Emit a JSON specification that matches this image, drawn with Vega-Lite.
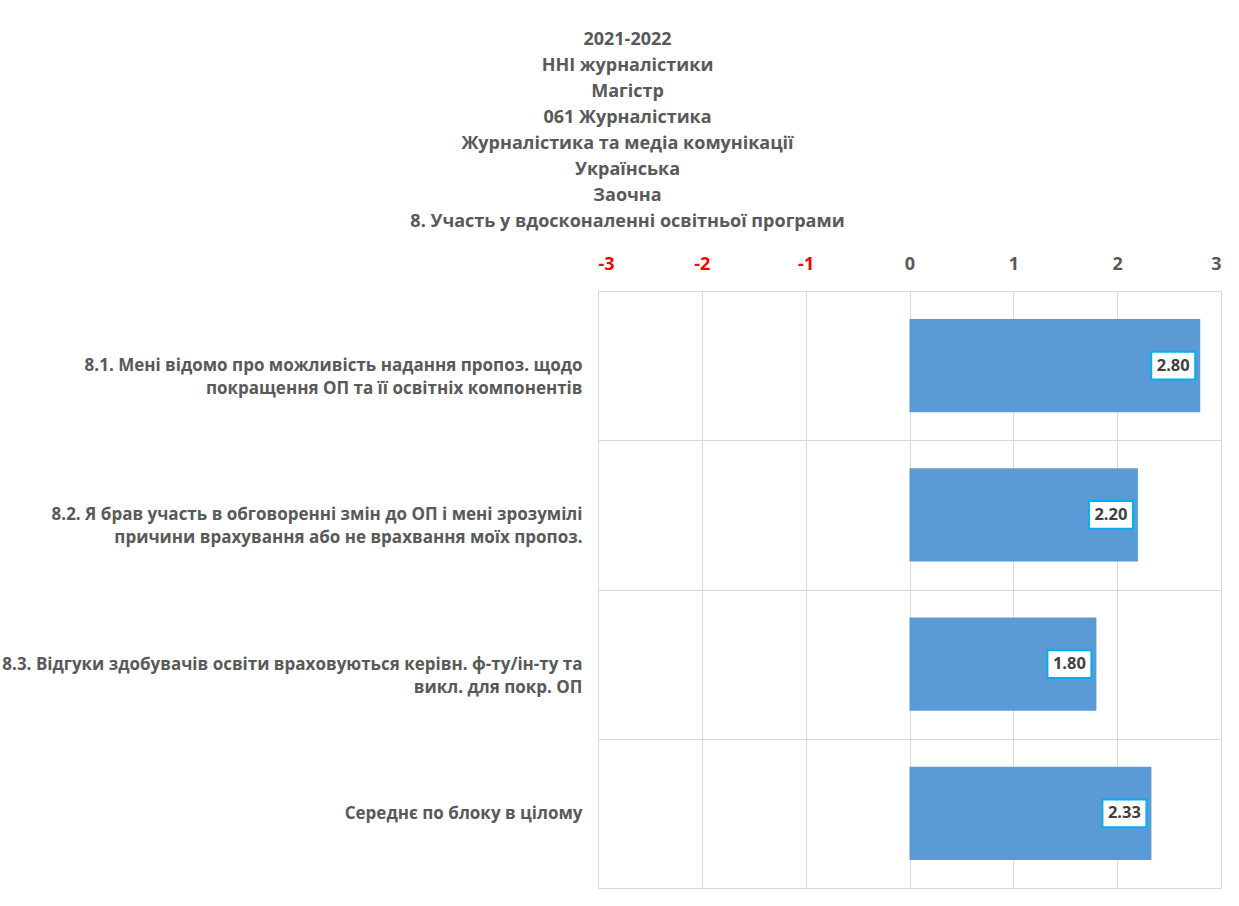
{
  "$schema": "https://vega.github.io/schema/vega-lite/v6.json",
  "width": 623,
  "height": 597,
  "autosize": {"type": "none"},
  "padding": {"left": 598, "top": 291, "right": 18, "bottom": 18},
  "background": "white",
  "config": {
    "font": "Open Sans",
    "view": {"stroke": "#d9d9d9", "strokeWidth": 1}
  },
  "title": {
    "text": ["2021-2022", "ННІ журналістики", "Магістр", "061 Журналістика", "Журналістика та медіа комунікації", "Українська", "Заочна", "8. Участь у вдосконаленні освітньої програми"],
    "fontSize": 18,
    "fontWeight": "bold",
    "color": "#595959",
    "lineHeight": 26,
    "anchor": "middle",
    "frame": "group",
    "dx": -282,
    "offset": 24
  },
  "data": {
    "values": [
      {"label": "8.1. Мені відомо про можливість надання пропоз. щодо|покращення ОП та її освітніх компонентів", "value": 2.80},
      {"label": "8.2. Я брав участь в обговоренні змін до ОП і мені зрозумілі|причини врахування або не врахвання моїх пропоз.", "value": 2.20},
      {"label": "8.3. Відгуки здобувачів освіти враховуються керівн. ф-ту/ін-ту та|викл. для покр. ОП", "value": 1.80},
      {"label": "Середнє по блоку в цілому", "value": 2.33}
    ]
  },
  "encoding": {
    "y": {
      "field": "label",
      "type": "nominal",
      "sort": null,
      "title": null,
      "scale": {"paddingInner": 0, "paddingOuter": 0},
      "axis": {
        "labelExpr": "split(datum.label, '|')",
        "labelFontSize": 17,
        "labelFontWeight": "bold",
        "labelColor": "#595959",
        "labelLineHeight": 23,
        "labelPadding": 16,
        "labelLimit": 700,
        "domain": false,
        "ticks": false,
        "grid": true,
        "gridColor": "#d9d9d9",
        "tickBand": "extent"
      }
    },
    "x": {
      "field": "value",
      "type": "quantitative",
      "title": null,
      "scale": {"domain": [-3, 3], "nice": false},
      "axis": {
        "orient": "top",
        "values": [-3, -2, -1, 0, 1, 2, 3],
        "labelExpr": "'' + datum.value",
        "labelFontSize": 18,
        "labelFontWeight": "bold",
        "labelColor": {"condition": {"test": "datum.value < 0", "value": "#ff0000"}, "value": "#595959"},
        "labelPadding": 18,
        "domain": false,
        "ticks": false,
        "grid": true,
        "gridColor": "#d9d9d9"
      }
    }
  },
  "layer": [
    {
      "mark": {"type": "bar", "color": "#5B9BD5", "height": {"band": 0.625}}
    },
    {
      "mark": {
        "type": "point",
        "shape": "M-1,-0.636L1,-0.636L1,0.636L-1,0.636Z",
        "size": 1936,
        "filled": true,
        "fill": "white",
        "stroke": "#00B0F0",
        "strokeWidth": 2,
        "opacity": 1,
        "xOffset": -27
      }
    },
    {
      "mark": {
        "type": "text",
        "fontSize": 16.5,
        "fontWeight": "bold",
        "color": "#404040",
        "xOffset": -27,
        "align": "center",
        "baseline": "middle"
      },
      "encoding": {"text": {"field": "value", "type": "quantitative", "format": ".2f"}}
    }
  ]
}
